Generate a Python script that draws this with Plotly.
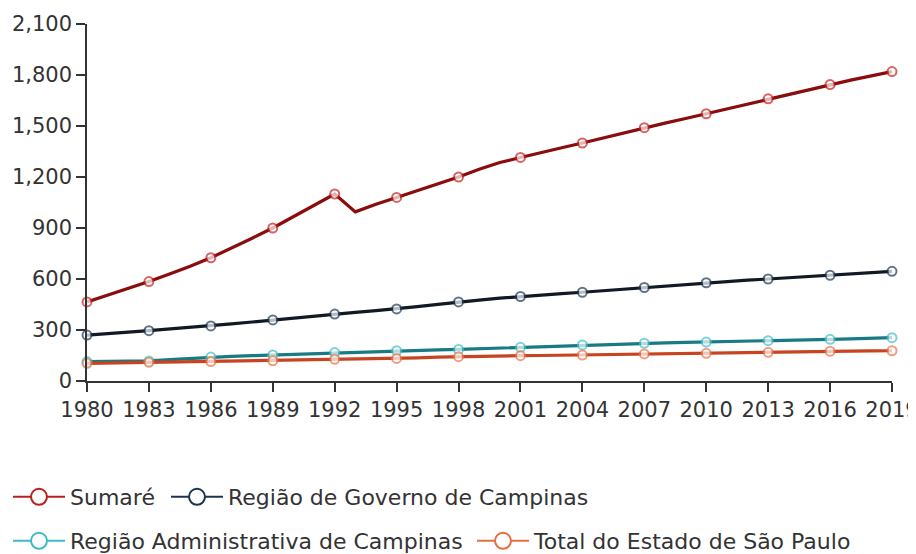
import plotly.graph_objects as go

years = list(range(1980, 2020))

sumare = [465, 505, 545, 585, 630, 675, 725, 780, 840, 900,
          965, 1035, 1100, 995, 1040, 1080, 1120, 1160, 1200, 1245,
          1285, 1315, 1345, 1372, 1400, 1430, 1460, 1490, 1517, 1544,
          1572, 1601, 1630, 1660, 1688, 1716, 1744, 1770, 1795, 1820]

governo = [270, 281, 288, 296, 305, 314, 324, 336, 347, 359,
           371, 383, 394, 404, 414, 424, 438, 451, 465, 476,
           487, 497, 505, 514, 522, 531, 540, 550, 559, 569,
           578, 585, 593, 600, 607, 615, 622, 630, 637, 645]

administrativa = [114, 115, 116, 118, 126, 133, 141, 145, 149, 153,
                  158, 162, 167, 171, 174, 178, 181, 183, 186, 190,
                  194, 198, 203, 207, 212, 215, 219, 222, 224, 227,
                  229, 232, 234, 237, 240, 242, 245, 248, 251, 255]

total_sp = [104, 106, 108, 110, 111, 113, 114, 116, 117, 119,
            122, 125, 128, 130, 131, 133, 136, 140, 143, 145,
            147, 149, 150, 152, 153, 155, 157, 159, 160, 162,
            163, 165, 167, 169, 171, 173, 175, 176, 177, 178]

names = ["Sumaré", "Região de Governo de Campinas",
         "Região Administrativa de Campinas", "Total do Estado de São Paulo"]
series = [sumare, governo, administrativa, total_sp]
line_colors = ["#8a0c0c", "#111a24", "#1a7a84", "#c8431f"]
marker_colors = ["#c82222", "#1f3a58", "#40c2ca", "#e9774a"]
legend_colors = ["#b82020", "#1c3350", "#3cbcc4", "#e4703f"]
legend_ids = ["legend", "legend2", "legend3", "legend4"]

W, H = 908, 546
legend_pos = [(-8 / W, 1 - 489 / H), (158 / W, 1 - 489 / H),
              (-8 / W, 1 - 533 / H), (464 / W, 1 - 533 / H)]

tick_years = list(range(1980, 2020, 3))
y_ticks = list(range(0, 2101, 300))

FONT = "DejaVu Sans"

fig = go.Figure()

marker_sizes = [9 if (y - 1980) % 3 == 0 else 0 for y in years]

for name, vals, lc, mc in zip(names, series, line_colors, marker_colors):
    fig.add_trace(go.Scatter(
        x=years, y=vals, name=name, mode="lines+markers",
        line=dict(color=lc, width=3.2),
        marker=dict(size=marker_sizes, color="white", symbol="circle",
                    line=dict(color=mc, width=2)),
        cliponaxis=False, showlegend=False, hoverinfo="x+y+name",
    ))

for name, col, lg in zip(names, legend_colors, legend_ids):
    fig.add_trace(go.Scatter(
        x=[None], y=[None], name=name, mode="lines+markers",
        line=dict(color=col, width=2),
        marker=dict(size=20, color="white", symbol="circle",
                    line=dict(color=col, width=2)),
        showlegend=True, legend=lg,
    ))

legend_common = dict(
    orientation="h", xref="container", yref="container",
    xanchor="left", yanchor="middle",
    font=dict(family=FONT, size=22, color="#333333"),
    bgcolor="rgba(0,0,0,0)", itemwidth=52, itemclick=False,
)

layout_legends = {}
for lg, (lx, ly) in zip(legend_ids, legend_pos):
    layout_legends[lg] = dict(x=lx, y=ly, **legend_common)

fig.update_layout(
    width=W, height=H,
    margin=dict(l=79, r=24, t=16, b=173),
    paper_bgcolor="white", plot_bgcolor="white",
    font=dict(family=FONT, size=21, color="#333333"),
    xaxis=dict(
        range=[1980, 2019], tickmode="array", tickvals=tick_years,
        ticktext=[str(t) for t in tick_years],
        showline=True, linecolor="#333333", linewidth=1.5,
        ticks="outside", ticklen=9, tickwidth=1.5, tickcolor="#333333",
        showgrid=False, zeroline=False, automargin=False,
        ticklabeloverflow="allow",
        tickfont=dict(family=FONT, size=21, color="#333333"),
    ),
    yaxis=dict(
        range=[0, 2100], tickmode="array", tickvals=y_ticks,
        ticktext=[f"{v:,}" for v in y_ticks],
        showline=True, linecolor="#333333", linewidth=1.5,
        ticks="outside", ticklen=9, tickwidth=1.5, tickcolor="#333333",
        showgrid=False, zeroline=False, automargin=False,
        ticklabeloverflow="allow",
        tickfont=dict(family=FONT, size=21, color="#333333"),
    ),
    showlegend=True,
    **layout_legends,
)

fig.write_html("out.html")
